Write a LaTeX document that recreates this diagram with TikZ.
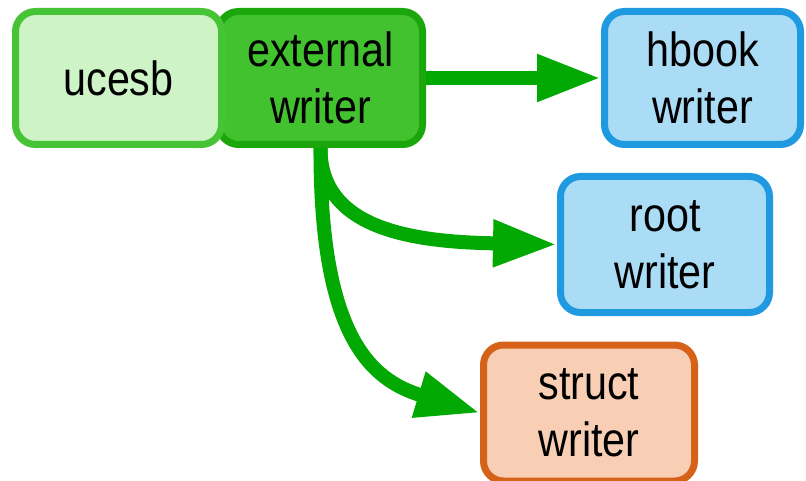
\documentclass[tikz,border=0pt]{standalone}
\usepackage{fontspec}
\setmainfont{Liberation Sans}[FakeStretch=0.86]
\usetikzlibrary{arrows.meta}
\definecolor{ucfill}{HTML}{CDF3C7}
\definecolor{ucline}{HTML}{47C336}
\definecolor{exfill}{HTML}{43C22F}
\definecolor{exline}{HTML}{1BA70B}
\definecolor{bluefill}{HTML}{ABDCF6}
\definecolor{blueline}{HTML}{1F9AE0}
\definecolor{orfill}{HTML}{F8CFB4}
\definecolor{orline}{HTML}{D6621A}
\definecolor{flow}{HTML}{02A902}
\tikzset{
  box/.style={draw, line width=7pt, rounded corners=20pt, align=center,
    font=\fontsize{48}{57}\selectfont, inner sep=0pt},
  flowarrow/.style={draw=flow, line width=14pt,
    -{Triangle[length=64pt,width=44pt]}},
}
\begin{document}
\begin{tikzpicture}[x=1pt,y=-1pt]
  \useasboundingbox (0,0) rectangle (806,481);
  % producer and writer nodes
  \node[box, fill=exfill, draw=exline, minimum width=204pt, minimum height=133pt]
    (ext) at (320.5,78) {external\\writer};
  \node[box, fill=ucfill, draw=ucline, minimum width=206pt, minimum height=133pt]
    (ucesb) at (118.5,78) {ucesb};
  \node[box, fill=bluefill, draw=blueline, minimum width=196pt, minimum height=133pt]
    (hbook) at (702.5,78) {hbook\\writer};
  \node[box, fill=bluefill, draw=blueline, minimum width=209pt, minimum height=136pt]
    (root) at (665,244.5) {root\\writer};
  \node[box, fill=orfill, draw=orline, minimum width=211pt, minimum height=136pt]
    (struct) at (589,413) {struct\\writer};
  % data flow
  \draw[flowarrow] (ext.east) -- (hbook.west);
  \draw[flowarrow] (ext.south) .. controls (320,232) and (420,242) .. (root.west);
  \draw[flowarrow] (ext.south) .. controls (320,335) and (370,380) .. (struct.west);
\end{tikzpicture}
\end{document}
